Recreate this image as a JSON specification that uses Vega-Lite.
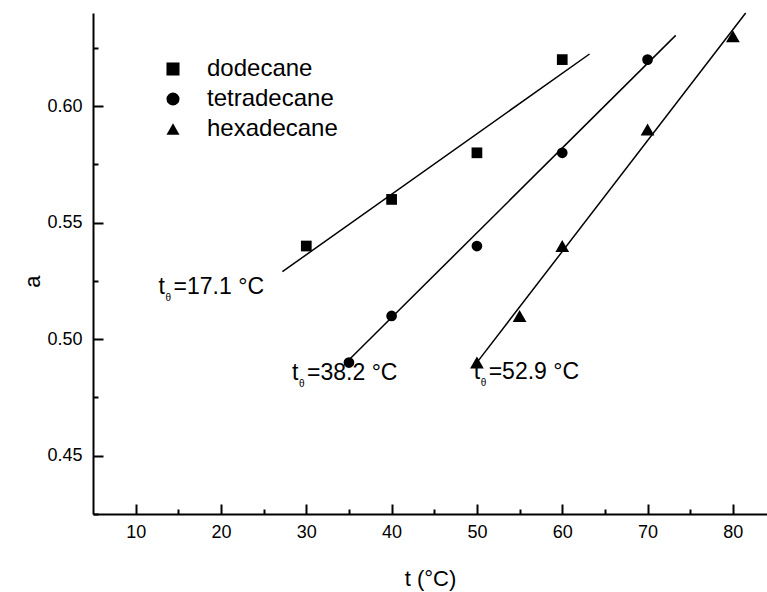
{
  "$schema": "https://vega.github.io/schema/vega-lite/v6.json",
  "width": 674,
  "height": 501,
  "autosize": {"type": "none"},
  "padding": {"left": 93, "top": 13, "right": 0, "bottom": 78},
  "background": "white",
  "config": {"view": {"stroke": null}, "font": "Liberation Sans"},
  "datasets": {
    "points": [
      {"series": "dodecane", "t": 30, "a": 0.54},
      {"series": "dodecane", "t": 40, "a": 0.56},
      {"series": "dodecane", "t": 50, "a": 0.58},
      {"series": "dodecane", "t": 60, "a": 0.62},
      {"series": "tetradecane", "t": 35, "a": 0.49},
      {"series": "tetradecane", "t": 40, "a": 0.51},
      {"series": "tetradecane", "t": 50, "a": 0.54},
      {"series": "tetradecane", "t": 60, "a": 0.58},
      {"series": "tetradecane", "t": 70, "a": 0.62},
      {"series": "hexadecane", "t": 50, "a": 0.49},
      {"series": "hexadecane", "t": 55, "a": 0.51},
      {"series": "hexadecane", "t": 60, "a": 0.54},
      {"series": "hexadecane", "t": 70, "a": 0.59},
      {"series": "hexadecane", "t": 80, "a": 0.63}
    ],
    "fits": [
      {"series": "dodecane", "t": 27.2, "a": 0.529},
      {"series": "dodecane", "t": 63.2, "a": 0.6224},
      {"series": "tetradecane", "t": 35.1, "a": 0.4915},
      {"series": "tetradecane", "t": 73.3, "a": 0.6304},
      {"series": "hexadecane", "t": 50.1, "a": 0.4905},
      {"series": "hexadecane", "t": 81.5, "a": 0.64}
    ],
    "notes": [
      {"t": 12.69, "a": 0.5194, "value": "=17.1 °C"},
      {"t": 28.33, "a": 0.4826, "value": "=38.2 °C"},
      {"t": 49.62, "a": 0.483, "value": "=52.9 °C"}
    ]
  },
  "layer": [
    {
      "data": {"name": "fits"},
      "mark": {"type": "line", "color": "black", "strokeWidth": 1.5},
      "encoding": {
        "x": {
          "field": "t", "type": "quantitative",
          "scale": {"domain": [5, 84], "nice": false, "zero": false},
          "axis": {
            "orient": "bottom",
            "title": "t (°C)",
            "values": [10, 15, 20, 25, 30, 35, 40, 45, 50, 55, 60, 65, 70, 75, 80],
            "labelExpr": "datum.value % 10 === 0 ? datum.label : ''",
            "tickSize": {"condition": {"test": "datum.value % 10 === 0", "value": -10}, "value": -5},
            "grid": false,
            "domainColor": "black", "domainWidth": 2,
            "tickColor": "black", "tickWidth": 2,
            "labelColor": "black", "labelFontSize": 18, "labelPadding": 19,
            "labelFont": "Liberation Sans",
            "titleColor": "black", "titleFontSize": 22, "titleFontWeight": "normal",
            "titleFont": "Liberation Sans", "titlePadding": 27
          }
        },
        "y": {
          "field": "a", "type": "quantitative",
          "scale": {"domain": [0.425, 0.64], "nice": false, "zero": false},
          "axis": {
            "orient": "left",
            "title": "a",
            "values": [0.425, 0.45, 0.475, 0.5, 0.525, 0.55, 0.575, 0.6, 0.625],
            "format": ".2f",
            "labelExpr": "abs(datum.value * 20 - round(datum.value * 20)) < 0.001 ? datum.label : ''",
            "tickSize": {"condition": {"test": "abs(datum.value * 20 - round(datum.value * 20)) < 0.001", "value": -10}, "value": -5},
            "grid": false,
            "domainColor": "black", "domainWidth": 2,
            "tickColor": "black", "tickWidth": 2,
            "labelColor": "black", "labelFontSize": 18, "labelPadding": 21,
            "labelFont": "Liberation Sans",
            "titleColor": "black", "titleFontSize": 22, "titleFontWeight": "normal",
            "titleFont": "Liberation Sans",
            "titleX": -49, "titleY": 268
          }
        },
        "detail": {"field": "series"}
      }
    },
    {
      "data": {"name": "points"},
      "mark": {"type": "point", "filled": true, "color": "black", "opacity": 1},
      "encoding": {
        "x": {"field": "t", "type": "quantitative"},
        "y": {"field": "a", "type": "quantitative"},
        "shape": {
          "field": "series", "type": "nominal",
          "scale": {"domain": ["dodecane", "tetradecane", "hexadecane"], "range": ["square", "circle", "triangle-up"]},
          "legend": {
            "orient": "none", "legendX": 68, "legendY": 44, "title": null,
            "labelFontSize": 24, "labelFont": "Liberation Sans", "labelColor": "black",
            "rowPadding": 6, "labelOffset": 22, "symbolSize": 170,
            "symbolFillColor": "black", "symbolStrokeColor": "black", "padding": 0
          }
        },
        "size": {"condition": {"test": "datum.series === 'hexadecane'", "value": 190}, "value": 115}
      }
    },
    {
      "data": {"name": "notes"},
      "mark": {"type": "text", "text": "t", "align": "left", "baseline": "alphabetic", "fontSize": 23, "font": "Liberation Sans", "color": "black"},
      "encoding": {
        "x": {"field": "t", "type": "quantitative"},
        "y": {"field": "a", "type": "quantitative"}
      }
    },
    {
      "data": {"name": "notes"},
      "mark": {"type": "text", "text": "θ", "align": "left", "baseline": "alphabetic", "fontSize": 10, "dx": 7, "dy": 7, "font": "Liberation Sans", "color": "black"},
      "encoding": {
        "x": {"field": "t", "type": "quantitative"},
        "y": {"field": "a", "type": "quantitative"}
      }
    },
    {
      "data": {"name": "notes"},
      "mark": {"type": "text", "align": "left", "baseline": "alphabetic", "fontSize": 23, "dx": 15, "font": "Liberation Sans", "color": "black"},
      "encoding": {
        "x": {"field": "t", "type": "quantitative"},
        "y": {"field": "a", "type": "quantitative"},
        "text": {"field": "value"}
      }
    },
    {
      "mark": {"type": "rule", "color": "black", "strokeWidth": 2},
      "encoding": {"y": {"datum": 0.64}}
    }
  ]
}
